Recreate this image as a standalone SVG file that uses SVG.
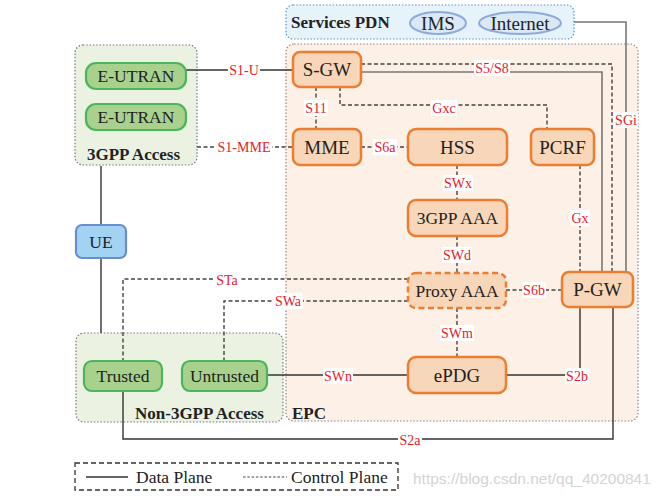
<svg xmlns="http://www.w3.org/2000/svg" width="662" height="502" viewBox="0 0 662 502">
<style>
.area{stroke-width:1.2;stroke-dasharray:1.5 1.8}
.onode{fill:#f8d6b9;stroke:#ed7d31;stroke-width:2.5}
.gnode{fill:#a9d18e;stroke:#4cb45c;stroke-width:2.2}
.bnode{fill:#a3d3f3;stroke:#6b8ecb;stroke-width:2.2}
.nt{font-family:"Liberation Serif","Times New Roman",serif;fill:#222;text-anchor:middle}
.big{font-size:19px}
.mid{font-size:17.5px}
.title{font-family:"Liberation Serif","Times New Roman",serif;font-weight:bold;font-size:17px;fill:#222}
.solid{fill:none;stroke:#333;stroke-width:1.4}
.gsolid{fill:none;stroke:#777;stroke-width:1.6}
.dash{fill:none;stroke:#444;stroke-width:1.4;stroke-dasharray:4 2.5}
.lbg{fill:#fff}
.lt{font-family:"Liberation Serif","Times New Roman",serif;font-size:14px;fill:#e8202a;text-anchor:middle}
.leg{font-family:"Liberation Serif","Times New Roman",serif;font-size:17.5px;fill:#222}
</style>

<!-- areas -->
<g id="services-pdn">
<rect x="286" y="5" width="288" height="34" rx="7" fill="#e6f3fb" stroke="#5b8fd1" class="area"/>
<text x="291" y="28" class="title">Services PDN</text>
</g>
<g id="epc-area">
<rect x="286" y="44" width="352" height="377" rx="8" fill="#fdf0e6" stroke="#888" class="area"/>
<text x="292" y="419" class="title">EPC</text>
</g>
<g id="access-3gpp">
<rect x="75" y="45" width="122" height="120" rx="8" fill="#ebf2e2" stroke="#777" class="area"/>
<text x="87" y="160" class="title">3GPP Access</text>
</g>
<g id="access-non3gpp">
<rect x="76" y="333" width="207" height="89" rx="8" fill="#ebf2e2" stroke="#777" class="area"/>
<text x="135" y="419" class="title">Non-3GPP Access</text>
</g>

<!-- connectors -->
<g id="connectors">
<path class="solid" d="M186 70H293"/>
<path class="dash" d="M197 147H293"/>
<path class="dash" d="M361 64H612V272"/>
<path class="gsolid" d="M361 72H602V272"/>
<path class="gsolid" d="M574 22H626V272"/>
<path class="dash" d="M316 87V129"/>
<path class="dash" d="M340 87V105H547V129"/>
<path class="dash" d="M361 147H408"/>
<path class="dash" d="M457 165V200"/>
<path class="dash" d="M457 236V273"/>
<path class="dash" d="M580 165V272"/>
<path class="dash" d="M506 290H562"/>
<path class="dash" d="M457 308V357"/>
<path class="solid" d="M267 375H408"/>
<path class="solid" d="M506 375H580V307"/>
<path class="solid" d="M613 307V439H123V391"/>
<path class="dash" d="M408 279H123V361"/>
<path class="dash" d="M408 301H224V361"/>
<path class="solid" d="M101 166V225M101 258V333"/>

<rect class="lbg" x="228" y="62" width="32" height="16"/><text class="lt" x="244" y="75">S1-U</text>
<rect class="lbg" x="216" y="139" width="56" height="16"/><text class="lt" x="244" y="152">S1-MME</text>
<rect class="lbg" x="304" y="100" width="24" height="16"/><text class="lt" x="316" y="113">S11</text>
<rect class="lbg" x="431" y="100" width="26" height="16"/><text class="lt" x="444" y="113">Gxc</text>
<rect class="lbg" x="474" y="60" width="36" height="16"/><text class="lt" x="492" y="73">S5/S8</text>
<rect class="lbg" x="614" y="112" width="24" height="16"/><text class="lt" x="626" y="125">SGi</text>
<rect class="lbg" x="373" y="139" width="24" height="16"/><text class="lt" x="385" y="152">S6a</text>
<rect class="lbg" x="443" y="175" width="30" height="16"/><text class="lt" x="458" y="188">SWx</text>
<rect class="lbg" x="570" y="210" width="20" height="16"/><text class="lt" x="580" y="223">Gx</text>
<rect class="lbg" x="442" y="247" width="30" height="16"/><text class="lt" x="457" y="260">SWd</text>
<rect class="lbg" x="214" y="272" width="26" height="16"/><text class="lt" x="227" y="285">STa</text>
<rect class="lbg" x="273" y="293" width="30" height="16"/><text class="lt" x="288" y="306">SWa</text>
<rect class="lbg" x="522" y="282" width="24" height="16"/><text class="lt" x="534" y="295">S6b</text>
<rect class="lbg" x="440" y="325" width="34" height="16"/><text class="lt" x="457" y="338">SWm</text>
<rect class="lbg" x="323" y="368" width="30" height="16"/><text class="lt" x="338" y="381">SWn</text>
<rect class="lbg" x="565" y="368" width="24" height="16"/><text class="lt" x="577" y="381">S2b</text>
<rect class="lbg" x="398" y="432" width="24" height="16"/><text class="lt" x="410" y="445">S2a</text>
</g>

<!-- nodes -->
<g id="ims"><ellipse cx="438" cy="23" rx="28" ry="11" fill="#dbe8f6" stroke="#8eaadb" stroke-width="2"/><text class="nt big" x="438" y="29.5">IMS</text></g>
<g id="internet"><ellipse cx="520" cy="23" rx="41" ry="11" fill="#dbe8f6" stroke="#8eaadb" stroke-width="2"/><text class="nt big" x="520" y="29.5">Internet</text></g>
<g id="eutran1"><rect class="gnode" x="86" y="63" width="100" height="26" rx="10"/><text class="nt mid" x="136" y="82">E-UTRAN</text></g>
<g id="eutran2"><rect class="gnode" x="86" y="104" width="100" height="26" rx="10"/><text class="nt mid" x="136" y="123">E-UTRAN</text></g>
<g id="sgw"><rect class="onode" x="293" y="52" width="68" height="35" rx="7"/><text class="nt big" x="327" y="76">S-GW</text></g>
<g id="mme"><rect class="onode" x="293" y="129" width="68" height="36" rx="7"/><text class="nt big" x="327" y="153.5">MME</text></g>
<g id="hss"><rect class="onode" x="408" y="129" width="99" height="36" rx="8"/><text class="nt big" x="457.5" y="153.5">HSS</text></g>
<g id="pcrf"><rect class="onode" x="531" y="129" width="63" height="36" rx="7"/><text class="nt big" x="562.5" y="153.5">PCRF</text></g>
<g id="aaa3gpp"><rect class="onode" x="408" y="200" width="99" height="36" rx="8"/><text class="nt mid" x="457.5" y="224">3GPP AAA</text></g>
<g id="proxyaaa"><rect class="onode" x="408" y="273" width="98" height="35" rx="8" stroke-dasharray="6 3.5"/><text class="nt mid" x="457" y="296.5">Proxy AAA</text></g>
<g id="pgw"><rect class="onode" x="562" y="272" width="71" height="35" rx="7"/><text class="nt big" x="597.5" y="296">P-GW</text></g>
<g id="epdg"><rect class="onode" x="408" y="357" width="98" height="36" rx="8"/><text class="nt big" x="457" y="381.5">ePDG</text></g>
<g id="ue"><rect class="bnode" x="76" y="225" width="50" height="33" rx="6"/><text class="nt mid" x="101" y="247.5">UE</text></g>
<g id="trusted"><rect class="gnode" x="84" y="361" width="78" height="30" rx="8"/><text class="nt mid" x="123" y="382">Trusted</text></g>
<g id="untrusted"><rect class="gnode" x="182" y="361" width="85" height="30" rx="8"/><text class="nt mid" x="224.5" y="382">Untrusted</text></g>

<!-- legend -->
<g id="legend">
<rect x="75" y="463" width="323" height="27" fill="none" stroke="#333" stroke-width="1.3" stroke-dasharray="5 3"/>
<path d="M86 477H128" stroke="#333" stroke-width="1.3"/>
<text class="leg" x="136" y="483">Data Plane</text>
<path d="M243 477H287" stroke="#444" stroke-width="1.2" stroke-dasharray="2.5 1.8"/>
<text class="leg" x="291" y="483">Control Plane</text>
</g>
<text x="413" y="484" font-family="Liberation Sans, Arial, sans-serif" font-size="15.5" fill="#d4d4d4">https://blog.csdn.net/qq_40200841</text>
</svg>
